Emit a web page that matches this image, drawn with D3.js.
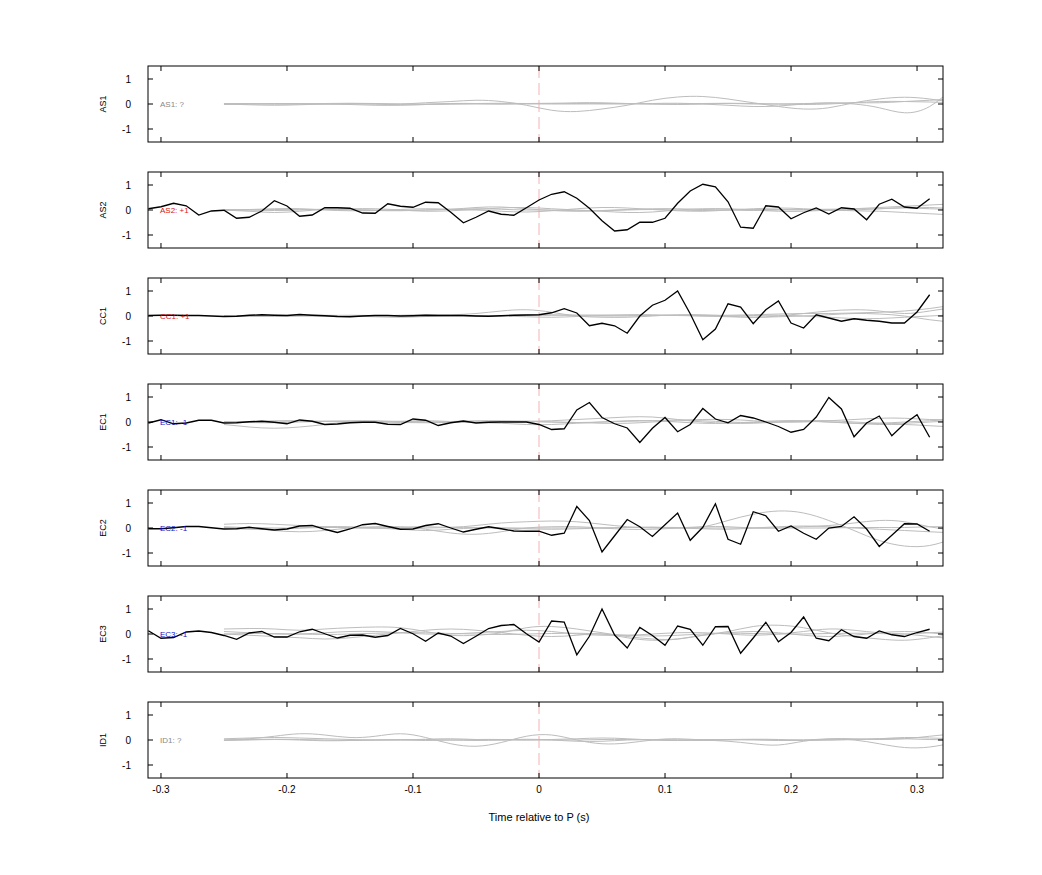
<!DOCTYPE html>
<html>
<head>
<meta charset="utf-8">
<script src="https://cdn.jsdelivr.net/npm/d3@7"></script>
<style>
  body { margin: 0; background: #fff; }
  text { font-family: "Liberation Sans", Arial, sans-serif; }
</style>
</head>
<body>
<div id="chart"></div>
<script>
// panel names, label text and label colour
const panels = ["AS1", "AS2", "CC1", "EC1", "EC2", "EC3", "ID1"];
const panelLabels = ["AS1: ?", "AS2: +1", "CC1: +1", "EC1: -1", "EC2: -1", "EC3: -1", "ID1: ?"];
const labelColors = ["#888", "#d11", "#d11", "#11c", "#11c", "#11c", "#888"];
const xTicks = [-0.3, -0.2, -0.1, 0, 0.1, 0.2, 0.3];
const yTicks = [-1, 0, 1];

// black traces, sampled every 10 ms from -0.31 s to 0.31 s (null = no trace)
const blackT = d3.range(-31, 32).map(i => i / 100);
const blackAS2 = [0.05,0.13,0.27,0.17,-0.2,-0.04,-0.01,-0.33,-0.29,-0.04,0.37,0.16,-0.25,-0.2,0.09,0.09,0.07,-0.12,-0.13,0.25,0.15,0.11,0.31,0.29,-0.09,-0.51,-0.29,-0.04,-0.17,-0.21,0.09,0.4,0.63,0.73,0.47,0.07,-0.43,-0.84,-0.79,-0.49,-0.49,-0.33,0.27,0.76,1.03,0.93,0.33,-0.69,-0.73,0.17,0.12,-0.35,-0.11,0.08,-0.16,0.09,0.04,-0.39,0.23,0.43,0.12,0.07,0.45];
const blackCC1 = [0.02,0.03,0.03,0.02,0.02,0,-0.02,-0.01,0.03,0.05,0.03,0.02,0.06,0.03,0.01,-0.02,-0.03,0,0.02,0.02,0,0.01,0.03,0.02,0.02,0.02,0,-0.01,0.01,0.03,0.04,0.05,0.13,0.29,0.12,-0.39,-0.29,-0.39,-0.69,0,0.43,0.63,1.0,0.09,-0.95,-0.52,0.49,0.36,-0.31,0.25,0.6,-0.28,-0.48,0.05,-0.08,-0.21,-0.11,-0.17,-0.21,-0.28,-0.28,0.16,0.85];
const blackEC1 = [-0.04,0.09,-0.07,-0.04,0.07,0.07,-0.04,-0.03,0.01,0.03,-0.01,-0.07,0.08,0.03,-0.1,-0.08,-0.03,-0.01,-0.01,-0.09,-0.1,0.12,0.07,-0.14,-0.03,0.04,-0.04,-0.01,0,0,0,-0.1,-0.3,-0.27,0.48,0.78,0.18,-0.07,-0.24,-0.82,-0.25,0.18,-0.39,-0.1,0.54,0.12,-0.03,0.26,0.16,0,-0.18,-0.41,-0.3,0.2,0.98,0.52,-0.59,-0.04,0.24,-0.55,-0.07,0.29,-0.61];
const blackEC2 = [-0.03,-0.03,0.01,0.06,0.06,0.01,-0.04,-0.03,0.03,-0.03,-0.08,-0.04,0.08,0.1,-0.05,-0.18,-0.04,0.13,0.18,0.06,-0.05,-0.04,0.1,0.17,0,-0.16,-0.05,0.05,-0.03,-0.12,-0.13,-0.13,-0.29,-0.21,0.86,0.3,-0.96,-0.31,0.34,0.05,-0.34,0.13,0.6,-0.49,0.03,0.97,-0.45,-0.65,0.65,0.49,-0.13,0.08,-0.21,-0.45,0,0.06,0.45,-0.04,-0.74,-0.29,0.17,0.16,-0.13];
const blackEC3 = [0.13,-0.17,-0.14,0.08,0.12,0.06,-0.06,-0.21,0.04,0.1,-0.12,-0.12,0.09,0.19,0.01,-0.16,-0.05,-0.04,-0.13,-0.06,0.22,0.01,-0.29,0.04,-0.08,-0.38,-0.09,0.22,0.34,0.38,0.01,-0.32,0.52,0.48,-0.83,-0.09,1.0,-0.04,-0.56,0.26,-0.06,-0.45,0.32,0.19,-0.45,0.29,0.3,-0.77,-0.16,0.47,-0.31,0.06,0.68,-0.17,-0.27,0.17,-0.1,-0.17,0.12,-0.03,-0.1,0.06,0.19];
const blackSeries = [null, blackAS2, blackCC1, blackEC1, blackEC2, blackEC3, null];

// grey traces, sampled every 20 ms from -0.25 s to 0.33 s
const greyT = d3.range(0, 30).map(i => -0.25 + i * 0.02);
const greyAS1 = [
  [0,0,0,0,0,0,0,0,0.05,0.1,0.15,0.1,-0.05,-0.25,-0.3,-0.2,-0.05,0.15,0.28,0.3,0.2,0.05,-0.1,-0.2,-0.15,0.05,0.2,0.27,0.2,0.05],
  [0,-0.03,-0.05,-0.03,0,0.02,0,-0.03,-0.02,0,0,0,0.02,0.03,0.02,0,0,0.02,0.03,0,-0.05,-0.1,-0.08,0,0.05,0,-0.15,-0.35,-0.1,0.7],
  [0.02,0.02,0,0,0.02,0.03,0.02,0,0,0.02,0.02,0,0,0.02,0.05,0.05,0.02,0,0,0.02,0.03,0.02,0,-0.02,0,0.05,0.1,0.1,0.08,0.05],
  [-0.02,0,0.02,0.02,0,-0.02,-0.05,-0.05,-0.02,0,0.02,0.03,0.02,0,0,0.02,0.02,0,-0.02,0,0.02,0,0,0.02,0.03,0.05,0.05,0.1,0.15,0.2]
];
const greyAS2 = [
  [0,-0.05,-0.1,-0.05,0.02,0.05,0.05,0,-0.05,-0.03,0.02,0.08,0.1,0.05,0,-0.05,-0.1,-0.08,0,0.05,0.05,0,-0.05,-0.05,0,0.05,0.1,0.15,0.2,0.25],
  [0,0.02,0.05,0.05,0,-0.03,-0.02,0.02,0.05,0.03,0,-0.05,-0.08,-0.03,0.05,0.1,0.08,0.02,-0.03,-0.05,0,0.05,0.08,0.05,0,-0.03,-0.05,-0.1,-0.15,-0.2],
  [0.02,0,-0.02,0,0.03,0.02,0,-0.02,0,0.02,0.05,0.03,0,0,-0.03,-0.02,0.02,0.05,0.05,0.02,0,-0.02,0,0.02,0.03,0.05,0.05,0.08,0.05,0.02],
  [-0.02,0,0.02,0.03,0.02,0,-0.02,-0.03,0,0.03,0.1,0.12,0.05,-0.02,-0.05,-0.03,0,0.02,0,-0.02,0,0.02,0.02,0,-0.02,0,0.05,0.1,0.1,0.05]
];
const greyCC1 = [
  [0,0.02,0.03,0.02,0,-0.02,0,0.03,0.05,0.05,0.1,0.2,0.25,0.15,0,-0.05,-0.05,0,0.05,0.05,0,-0.05,0,0.1,0.2,0.25,0.2,0.1,0.2,0.35],
  [0,-0.02,0,0.02,0.03,0,-0.03,-0.05,-0.02,0,0,0.02,0.05,0.05,0.02,0,0,0.02,0.03,0,-0.03,-0.05,-0.03,0,0.05,0.1,0.08,0,-0.15,-0.25],
  [0.02,0,-0.02,0,0.02,0.03,0.02,0,0,0.02,0.02,0,-0.03,-0.05,-0.02,0.02,0.05,0.05,0.02,0,0,0.02,0.03,0,-0.05,-0.1,-0.1,-0.05,0,0.05],
  [0,0.01,0.02,0.01,0,0,0.01,0.02,0.02,0.01,0,0,0.02,0.03,0.04,0.04,0.03,0.02,0.02,0.02,0.03,0.05,0.08,0.1,0.1,0.12,0.15,0.2,0.3,0.45]
];
const greyEC1 = [
  [-0.1,-0.2,-0.25,-0.2,-0.1,0,0.02,0.02,0,-0.02,0,0.02,0.03,0.05,0.1,0.15,0.2,0.2,0.1,0,-0.05,-0.05,0,0.05,0.05,0,-0.05,-0.05,0,0.05],
  [0,0.02,0.05,0.05,0.02,0,0,0.03,0.05,0.02,-0.02,-0.05,-0.1,-0.1,-0.05,0,0.05,0.05,0,-0.05,-0.05,0,0.05,0.05,0,-0.05,-0.1,-0.1,-0.15,-0.2],
  [0,-0.02,-0.03,0,0.03,0.05,0.05,0.02,0,0.02,0.05,0.05,0.03,0,-0.02,0,0.03,0.05,0.08,0.1,0.1,0.05,0,0,0.05,0.1,0.15,0.15,0.1,0.1],
  [0.02,0,0,0.02,0.03,0.02,0,-0.02,-0.03,-0.02,0,0.02,0.02,0,-0.02,-0.05,-0.05,0,0.05,0.05,0,-0.02,0,0.02,0,-0.05,-0.05,0,0.05,0.1]
];
const greyEC2 = [
  [0.15,0.18,0.15,0.1,0.05,0,0,0.03,0.05,0.03,0.1,0.2,0.25,0.28,0.25,0.15,0.05,0,0,0.05,0.3,0.55,0.68,0.6,0.3,-0.1,-0.5,-0.72,-0.7,-0.4],
  [0.05,0,-0.1,-0.15,-0.1,0,0.05,0.05,-0.05,-0.2,-0.25,-0.15,0,0.05,0.05,0,-0.05,-0.05,0,0.05,0.05,0,0,0.05,0.1,0.2,0.3,0.25,0.05,-0.1],
  [0,-0.05,-0.05,0,0.05,0.05,0,-0.05,-0.1,-0.05,0,0,-0.03,-0.05,-0.03,0,0.02,0.03,0,-0.03,-0.05,0,0.05,0.08,0.05,0,-0.05,-0.1,-0.15,-0.2],
  [0.02,0.02,0,0,0.02,0.02,0,0,0,0.02,0.02,0,0,0,0,0,0.02,0.03,0.02,0,0,0,0,0,0,0.02,0.02,0.02,0.05,0.05]
];
const greyEC3 = [
  [0.2,0.22,0.2,0.15,0.2,0.25,0.28,0.25,0.1,-0.05,-0.05,0.05,0.25,0.3,0.2,0.05,-0.1,-0.2,-0.2,-0.05,0.1,0.3,0.35,0.25,0.05,-0.1,-0.2,-0.25,-0.15,0],
  [0,-0.05,-0.1,-0.15,-0.2,-0.15,-0.05,0.05,0.15,0.2,0.15,0.05,-0.05,-0.1,-0.05,0,-0.15,-0.25,-0.2,-0.05,0.05,0.1,0.05,-0.05,-0.1,-0.05,0.05,0.1,0.05,-0.05],
  [0.1,0.05,0,0,0.05,0.1,0.1,0.05,0,0,0.05,0.1,0.15,0.1,0,-0.05,-0.05,0,0.05,0.05,0,-0.05,0,0.1,0.2,0.15,0.05,0,-0.1,-0.2],
  [0,0.02,0.02,0,-0.02,0,0.03,0.05,0.05,0.02,0,-0.02,0,0.02,0.03,0,-0.05,-0.08,-0.05,0,0.03,0.02,0,0,0.02,0.03,0.02,0,0.05,0.1]
];
const greyID1 = [
  [0,0.05,0.15,0.25,0.2,0.1,0.15,0.25,0.1,-0.15,-0.25,-0.1,0.15,0.2,0,-0.15,-0.12,0,0.05,0,-0.05,-0.15,-0.2,-0.05,0.03,0,-0.15,-0.3,-0.28,-0.1],
  [0.05,0.08,0.1,0.08,0.05,0.02,0,0,0.03,0.05,0.02,0,0,0.02,0.05,0.08,0.05,0,-0.02,0,0.02,0.03,0.02,0,0.05,0.05,0.02,0.05,0.15,0.25],
  [-0.02,0,0.02,0,-0.03,-0.02,0,0.02,0.02,0,-0.02,0,0.03,0,-0.05,-0.05,0,0.02,0,-0.02,0,0.02,0,0,0,0.02,0.05,0.1,0.08,0.05],
  [0,0.02,0.03,0.02,0,-0.02,0,0,-0.02,0,0.02,0.02,0,0,0,0.02,0.02,0,0,0.02,0.02,0,-0.02,-0.02,0,0.02,0.05,0.05,0.02,0]
];
const greySeries = [greyAS1, greyAS2, greyCC1, greyEC1, greyEC2, greyEC3, greyID1];

const left = 148, right = 943, panelH = 76, firstTop = 66, step = 106;

const svg = d3.select("#chart").append("svg")
  .attr("width", 1042).attr("height", 875);

const x = d3.scaleLinear().domain([-0.3103, 0.3206]).range([left, right]);

svg.append("defs").append("clipPath").attr("id", "clip")
  .append("rect").attr("x", left).attr("y", 0).attr("width", right - left).attr("height", panelH);

panels.forEach((name, p) => {
  const top = firstTop + p * step;
  const g = svg.append("g").attr("transform", `translate(0,${top})`);
  const y = d3.scaleLinear().domain([-1.52, 1.52]).range([panelH, 0]);
  const plot = g.append("g").attr("clip-path", "url(#clip)");

  // zero line marker
  plot.append("line")
    .attr("x1", x(0)).attr("x2", x(0)).attr("y1", 0).attr("y2", panelH)
    .attr("stroke", "#f0a0a0").attr("stroke-width", 0.8).attr("stroke-dasharray", "12,5");

  const greyLine = d3.line().x((d, i) => x(greyT[i])).y(d => y(d)).curve(d3.curveNatural);
  greySeries[p].forEach(s => {
    plot.append("path").attr("d", greyLine(s))
      .attr("fill", "none").attr("stroke", "#bdbdbd").attr("stroke-width", 1);
  });

  g.append("text").attr("x", 160).attr("y", y(0) + 3)
    .attr("font-size", 8).attr("fill", labelColors[p]).text(panelLabels[p]);

  if (blackSeries[p]) {
    const blackLine = d3.line().x((d, i) => x(blackT[i])).y(d => y(d));
    plot.append("path").attr("d", blackLine(blackSeries[p]))
      .attr("fill", "none").attr("stroke", "#000").attr("stroke-width", 1.3);
  }

  // frame and inward ticks
  g.append("rect").attr("x", left).attr("y", 0).attr("width", right - left).attr("height", panelH)
    .attr("fill", "none").attr("stroke", "#000").attr("stroke-width", 1);
  xTicks.forEach(t => {
    g.append("line").attr("x1", x(t)).attr("x2", x(t)).attr("y1", 0).attr("y2", 5).attr("stroke", "#000");
    g.append("line").attr("x1", x(t)).attr("x2", x(t)).attr("y1", panelH).attr("y2", panelH - 5).attr("stroke", "#000");
  });
  yTicks.forEach(t => {
    g.append("line").attr("x1", left).attr("x2", left + 5).attr("y1", y(t)).attr("y2", y(t)).attr("stroke", "#000");
    g.append("line").attr("x1", right).attr("x2", right - 5).attr("y1", y(t)).attr("y2", y(t)).attr("stroke", "#000");
    g.append("text").attr("x", 131).attr("y", y(t) + 3.5).attr("text-anchor", "end")
      .attr("font-size", 10).text(t);
  });

  g.append("text")
    .attr("transform", `translate(106,${panelH / 2}) rotate(-90)`)
    .attr("text-anchor", "middle").attr("font-size", 9).text(name);

  if (p === panels.length - 1) {
    xTicks.forEach(t => {
      g.append("text").attr("x", x(t)).attr("y", panelH + 15).attr("text-anchor", "middle")
        .attr("font-size", 10).text(t);
    });
  }
});

svg.append("text").attr("x", 539).attr("y", 821).attr("text-anchor", "middle")
  .attr("font-size", 11).text("Time relative to P (s)");
</script>
</body>
</html>
